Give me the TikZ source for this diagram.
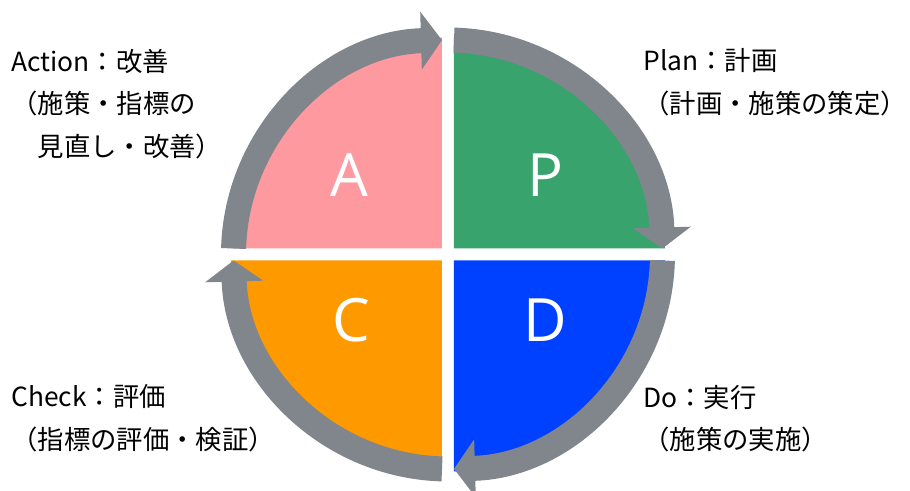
\documentclass[tikz,border=0pt]{standalone}
\usepackage{fontspec}
\setmainfont{Noto Sans CJK JP}
\newfontfamily\lettersf{Open Sans}
\usetikzlibrary{arrows.meta, positioning}
\definecolor{ringgray}{RGB}{128,134,140}
\definecolor{actpink}{RGB}{255,153,160}
\definecolor{plangreen}{RGB}{56,163,108}
\definecolor{doblue}{RGB}{0,64,255}
\definecolor{chkorange}{RGB}{255,153,0}
\tikzset{
  ring/.style={line width=0.5cm, ringgray, -{Triangle[width=1.14cm, length=0.42cm]}},
  letter/.style={text=white, inner sep=0pt, font=\lettersf\fontsize{34}{34}\selectfont},
  note/.style={anchor=north west, inner sep=0pt, align=left, font=\fontsize{15}{24.2}\selectfont}
}

\begin{document}
\begin{tikzpicture}
		\useasboundingbox (-8.96,-4.73) rectangle (9.24,5.09);
		% quadrants
		\fill [actpink] (-0.12,0.12) -- ++(-4.22,0) arc[start angle=180, end angle=90, radius=4.22] -- cycle;
		\fill [plangreen] (0.12,0.12) -- ++(0,4.22) arc[start angle=90, end angle=0, radius=4.22] -- cycle;
		\fill [doblue] (0.12,-0.12) -- ++(4.22,0) arc[start angle=0, end angle=-90, radius=4.22] -- cycle;
		\fill [chkorange] (-0.12,-0.12) -- ++(0,-4.22) arc[start angle=270, end angle=180, radius=4.22] -- cycle;
		% cycle arrows
		\foreach \a in {0,90,180,270}
			\draw [ring] (\a+88.4:4.29) arc[start angle=\a+88.4, end angle=\a+1.6, radius=4.29];
		\node [letter] (A) at (-1.98,1.58) {A};
		\node [letter] (P) at (1.94,1.58) {P};
		\node [letter] (C) at (-1.94,-1.32) {C};
		\node [letter] (D) at (1.94,-1.32) {D};
		\node [note] (act) at (-8.74,4.12) {Action：改善\\（施策・指標の\\　見直し・改善）};
		\node [note] (plan) at (3.9,4.12) {Plan：計画\\（計画・施策の策定）};
		\node [note] (chk) at (-8.74,-2.6) {Check：評価\\（指標の評価・検証）};
		\node [note] (do) at (3.9,-2.6) {Do：実行\\（施策の実施）};
\end{tikzpicture}
\end{document}
